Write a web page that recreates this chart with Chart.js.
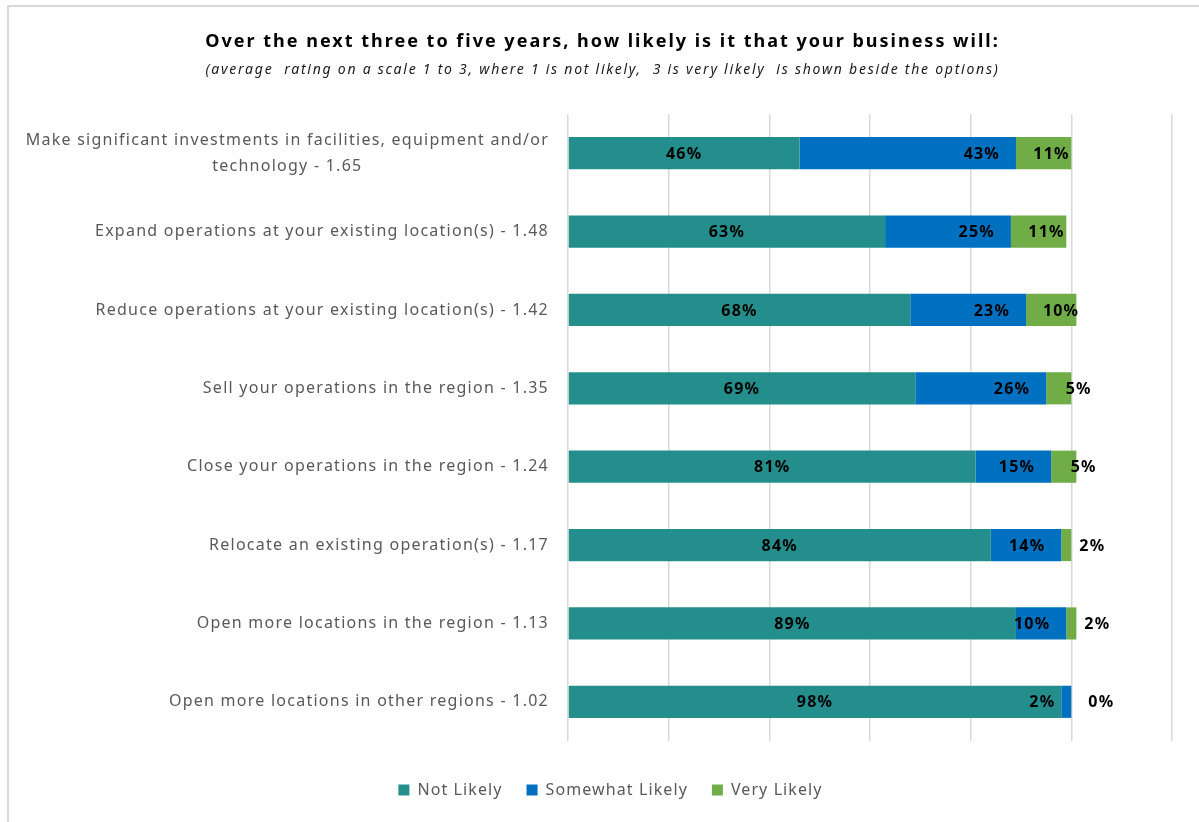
<!DOCTYPE html>
<html>
<head>
<meta charset="utf-8">
<script src="https://cdn.jsdelivr.net/npm/chart.js@4"></script>
<style>
  html, body { margin: 0; padding: 0; background: #fff; overflow: hidden; }
  #wrap { position: relative; width: 1199px; height: 822px; }
  #frame { position: absolute; left: 7px; top: 5px; width: 1300px; height: 900px;
           border-left: 2px solid #d9d9d9; border-top: 2px solid #d9d9d9; }
  canvas { position: absolute; left: 0; top: 0; }
</style>
</head>
<body>
<div id="wrap">
  <div id="frame"></div>
  <canvas id="likelyChart" width="1199" height="822"></canvas>
</div>
<script>
const categories = [
  ["Make significant investments in facilities, equipment and/or", "technology - 1.65"],
  "Expand operations at your existing location(s) - 1.48",
  "Reduce operations at your existing location(s) - 1.42",
  "Sell your operations in the region - 1.35",
  "Close your operations in the region - 1.24",
  "Relocate an existing operation(s) - 1.17",
  "Open more locations in the region - 1.13",
  "Open more locations in other regions - 1.02"
];
const seriesNames = ["Not Likely", "Somewhat Likely", "Very Likely"];
const notLikely = [46, 63, 68, 69, 81, 84, 89, 98];
const somewhatLikely = [43, 25, 23, 26, 15, 14, 10, 2];
const veryLikely = [11, 11, 10, 5, 5, 2, 2, 0];
const xTicks = [0, 20, 40, 60, 80, 100, 120];

const titleText = "Over the next three to five years, how likely is it that your business will:";
const subtitleText = "(average  rating on a scale 1 to 3, where 1 is not likely,  3 is very likely  is shown beside the options)";

const FONT = "'Noto Sans', 'Open Sans', sans-serif";
const colors = ["#238E8B", "#0070C0", "#70AD47"];

// the source font runs wide, so text gets a little tracking
const tracking = {
  id: "tracking",
  beforeUpdate(chart) { chart.ctx.letterSpacing = "1.1px"; },
  beforeDraw(chart) { chart.ctx.letterSpacing = "1.1px"; },
  afterLayout(chart) {
    // centre the legend under the whole page rather than the plot box
    const shift = chart.width / 2 + 11 - (chart.legend.left + chart.legend.right) / 2;
    chart.legend.left += shift;
    chart.legend.right += shift;
  }
};

const headings = {
  id: "headings",
  afterDraw(chart) {
    const ctx = chart.ctx;
    const cx = chart.width / 2 + 3;
    ctx.save();
    ctx.textAlign = "center";
    ctx.textBaseline = "middle";
    ctx.fillStyle = "#000";
    ctx.letterSpacing = "2px";
    ctx.font = "bold 18px " + FONT;
    ctx.fillText(titleText, cx, 42);
    ctx.letterSpacing = "1.75px";
    ctx.fillStyle = "#1a1a1a";
    ctx.font = "italic 14px " + FONT;
    ctx.fillText(subtitleText, cx, 70);
    ctx.restore();
  }
};

// category labels on the left, multi-line ones centred within their block
const categoryLabels = {
  id: "categoryLabels",
  afterDraw(chart) {
    const ctx = chart.ctx;
    const yScale = chart.scales.y;
    const right = chart.chartArea.left - 19;
    const lineH = 26;
    ctx.save();
    ctx.letterSpacing = "1.25px";
    ctx.font = "16px " + FONT;
    ctx.fillStyle = "#595959";
    ctx.textBaseline = "middle";
    ctx.textAlign = "center";
    categories.forEach((label, i) => {
      const lines = Array.isArray(label) ? label : [label];
      const w = Math.max(...lines.map(l => ctx.measureText(l).width));
      const cx = right - w / 2;
      const y0 = yScale.getPixelForTick(i) - (lines.length - 1) * lineH / 2;
      lines.forEach((l, k) => ctx.fillText(l, cx, y0 + k * lineH));
    });
    ctx.restore();
  }
};

// percentage labels on each bar segment
const segmentLabels = {
  id: "segmentLabels",
  afterDatasetsDraw(chart) {
    const ctx = chart.ctx;
    ctx.save();
    ctx.letterSpacing = "1.2px";
    ctx.font = "bold 16px " + FONT;
    ctx.fillStyle = "#000";
    ctx.textBaseline = "middle";
    chart.data.datasets.forEach((ds, i) => {
      const meta = chart.getDatasetMeta(i);
      meta.data.forEach((bar, j) => {
        const text = ds.data[j] + "%";
        const start = Math.min(bar.base, bar.x);
        const end = Math.max(bar.base, bar.x);
        const w = end - start;
        if (i === 0) {
          ctx.textAlign = "center";
          ctx.fillText(text, (start + end) / 2, bar.y + 1);
        } else if (i === 1) {
          ctx.textAlign = "right";
          ctx.fillText(text, end - 16, bar.y + 1);
        } else {
          ctx.textAlign = "center";
          ctx.fillText(text, end + 30 - 0.9 * w, bar.y + 1);
        }
      });
    });
    ctx.restore();
  }
};

const ctx = document.getElementById("likelyChart").getContext("2d");
new Chart(ctx, {
  type: "bar",
  data: {
    labels: categories,
    datasets: [
      { label: seriesNames[0], data: notLikely, backgroundColor: colors[0] },
      { label: seriesNames[1], data: somewhatLikely, backgroundColor: colors[1] },
      { label: seriesNames[2], data: veryLikely, backgroundColor: colors[2] }
    ]
  },
  options: {
    indexAxis: "y",
    responsive: false,
    animation: false,
    barPercentage: 0.41,
    categoryPercentage: 1,
    layout: { padding: { left: 0, right: 27, top: 114, bottom: 14 } },
    scales: {
      x: {
        stacked: true,
        min: xTicks[0],
        max: xTicks[xTicks.length - 1],
        afterBuildTicks: s => { s.ticks = xTicks.map(v => ({ value: v })); },
        ticks: { display: false },
        grid: { color: "#d9d9d9", lineWidth: 1.5, drawTicks: false },
        border: { display: false },
        afterFit: s => { s.height = 17; }
      },
      y: {
        stacked: true,
        ticks: { display: false },
        grid: { display: false },
        border: { display: false },
        afterFit: s => { s.width = 568; }
      }
    },
    plugins: {
      tooltip: { enabled: false },
      title: { display: false },
      legend: {
        position: "bottom",
        labels: {
          boxWidth: 11,
          boxHeight: 11,
          padding: 24,
          color: "#595959",
          font: { family: FONT, size: 16 }
        }
      }
    }
  },
  plugins: [tracking, headings, categoryLabels, segmentLabels]
});
</script>
</body>
</html>
